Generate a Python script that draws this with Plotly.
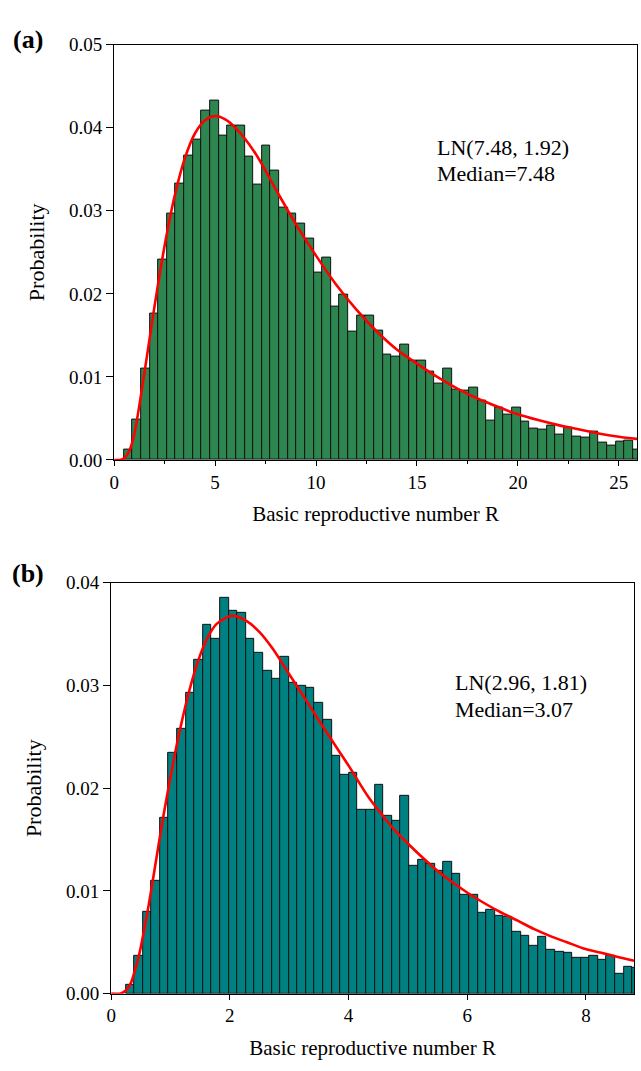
import plotly.graph_objects as go

# ---------------- data ----------------
# Panel (a): histogram of R, 60 bins
a_bin_start = 0.48
a_bin_width = 0.4275
a_prob = [0.0013, 0.0049, 0.0110, 0.0176, 0.0241, 0.0297, 0.0333, 0.0366, 0.0386, 0.0421,
          0.0433, 0.0391, 0.0402, 0.0403, 0.0365, 0.0331, 0.0378, 0.0348, 0.0304, 0.0296,
          0.0284, 0.0266, 0.0225, 0.0244, 0.0185, 0.0199, 0.0154, 0.0174, 0.0174, 0.0156,
          0.0127, 0.0124, 0.0139, 0.0120, 0.0120, 0.0106, 0.0092, 0.0110, 0.0085, 0.0083,
          0.0087, 0.0072, 0.0047, 0.0063, 0.0055, 0.0063, 0.0046, 0.0038, 0.0036, 0.0041,
          0.0031, 0.0039, 0.0028, 0.0027, 0.0034, 0.0021, 0.0017, 0.0022, 0.0023, 0.0013]
# fitted log-normal curve
a_curve_x = [0.0, 0.3, 0.5, 0.75, 1.0, 1.25, 1.5, 1.75, 2.0, 2.5, 3.0, 3.5, 4.0, 4.5, 5.0,
             5.5, 6.0, 7.0, 8.0, 9.0, 10.0, 11.0, 12.0, 13.0, 14.0, 15.0, 16.0, 17.0, 18.0,
             19.0, 20.0, 21.0, 22.0, 23.0, 24.0, 25.0, 26.0]
a_curve_y = [0.0, 0.0, 0.0002, 0.0011, 0.0031, 0.0066, 0.0105, 0.0145, 0.0185, 0.0258,
             0.0318, 0.0363, 0.0393, 0.0409, 0.0414, 0.0410, 0.0400, 0.0369, 0.0326, 0.0284,
             0.0246, 0.0211, 0.0181, 0.0155, 0.0133, 0.0116, 0.0100, 0.0086, 0.0074, 0.0064,
             0.0055, 0.0048, 0.0042, 0.0037, 0.0032, 0.0028, 0.0025]
a_text = ["LN(7.48, 1.92)", "Median=7.48"]

# Panel (b): histogram of R, 60 bins
b_bin_start = 0.245
b_bin_width = 0.1447
b_prob = [0.0009, 0.0037, 0.0080, 0.0110, 0.0171, 0.0234, 0.0258, 0.0293, 0.0325, 0.0359,
          0.0345, 0.0385, 0.0373, 0.0371, 0.0345, 0.0332, 0.0314, 0.0307, 0.0328, 0.0303,
          0.0300, 0.0298, 0.0283, 0.0267, 0.0232, 0.0213, 0.0215, 0.0179, 0.0179, 0.0203,
          0.0173, 0.0168, 0.0193, 0.0124, 0.0130, 0.0126, 0.0120, 0.0128, 0.0117, 0.0096,
          0.0096, 0.0079, 0.0082, 0.0076, 0.0075, 0.0060, 0.0056, 0.0047, 0.0055, 0.0043,
          0.0041, 0.0040, 0.0035, 0.0035, 0.0037, 0.0033, 0.0037, 0.0019, 0.0026, 0.0025]
b_curve_x = [0.0, 0.16, 0.245, 0.329, 0.412, 0.468, 0.607, 0.718, 0.874, 1.069, 1.175, 1.303,
             1.459, 1.61, 1.777, 2.027, 2.278, 2.5, 2.72, 3.0, 3.28, 3.5, 3.84, 4.0, 4.34,
             4.58, 4.78, 5.02, 5.2, 5.51, 5.81, 6.01, 6.29, 6.57, 6.85, 7.12, 7.40, 7.68,
             7.96, 8.24, 8.52, 8.81]
b_curve_y = [0.0, 0.0, 0.0003, 0.0010, 0.0025, 0.0037, 0.0078, 0.0116, 0.0171, 0.0232,
             0.0261, 0.0292, 0.0323, 0.0345, 0.0360, 0.0368, 0.0363, 0.0352, 0.0336, 0.0311,
             0.0286, 0.0266, 0.0236, 0.0222, 0.0191, 0.0173, 0.0159, 0.0145, 0.0135, 0.0119,
             0.0106, 0.0098, 0.0088, 0.0079, 0.0071, 0.0063, 0.0056, 0.0050, 0.0044, 0.0040,
             0.0036, 0.0032]
b_text = ["LN(2.96, 1.81)", "Median=3.07"]

x_title = "Basic reproductive number R"
y_title = "Probability"

# ---------------- figure ----------------
W, H = 641, 1071
FONT = "Liberation Serif, Times New Roman, serif"


def px_x(p):
    return p / W


def px_y(p):
    return 1 - p / H


a_centers = [a_bin_start + a_bin_width * (i + 0.5) for i in range(len(a_prob))]
b_centers = [b_bin_start + b_bin_width * (i + 0.5) for i in range(len(b_prob))]

fig = go.Figure()
fig.add_trace(go.Bar(x=a_centers, y=a_prob, width=a_bin_width,
                     marker=dict(color="#2D8550", line=dict(color="#111111", width=1)),
                     xaxis="x", yaxis="y", showlegend=False))
fig.add_trace(go.Scatter(x=a_curve_x, y=a_curve_y, mode="lines",
                         line=dict(color="#FF0000", width=2.6, shape="spline", smoothing=0.8),
                         xaxis="x", yaxis="y", showlegend=False))
fig.add_trace(go.Bar(x=b_centers, y=b_prob, width=b_bin_width,
                     marker=dict(color="#008080", line=dict(color="#111111", width=1)),
                     xaxis="x2", yaxis="y2", showlegend=False))
fig.add_trace(go.Scatter(x=b_curve_x, y=b_curve_y, mode="lines",
                         line=dict(color="#FF0000", width=2.6, shape="spline", smoothing=0.8),
                         xaxis="x2", yaxis="y2", showlegend=False))

x_common = dict(showline=True, linecolor="black", linewidth=1, mirror=True,
                ticks="outside", tickcolor="black", tickwidth=1, ticklen=5,
                showgrid=False, zeroline=False,
                tickfont=dict(family=FONT, size=19, color="black"))
y_common = dict(showline=True, linecolor="black", linewidth=1, mirror=True,
                ticks="outside", tickcolor="black", tickwidth=1, ticklen=7,
                showgrid=False, zeroline=False,
                tickfont=dict(family=FONT, size=19, color="black"))

fig.update_layout(
    width=W, height=H,
    margin=dict(l=0, r=0, t=0, b=0),
    paper_bgcolor="white", plot_bgcolor="white",
    bargap=0,
    font=dict(family=FONT, color="black"),
    xaxis=dict(domain=[px_x(110), px_x(637)], range=[0, 25.9], anchor="y",
               tickvals=[0, 5, 10, 15, 20, 25],
               minor=dict(ticks="outside", tickvals=[2.5, 7.5, 12.5, 17.5, 22.5],
                          ticklen=3, tickcolor="black"),
               title=dict(text=x_title, font=dict(family=FONT, size=21), standoff=14),
               **x_common),
    yaxis=dict(domain=[px_y(459), px_y(35.3)], range=[0, 0.05], anchor="x",
               tickvals=[0, 0.01, 0.02, 0.03, 0.04, 0.05], tickformat=".2f",
               title=dict(text=y_title, font=dict(family=FONT, size=22), standoff=18),
               **y_common),
    xaxis2=dict(domain=[px_x(107), px_x(634)], range=[0, 8.81], anchor="y2",
                tickvals=[0, 2, 4, 6, 8],
                title=dict(text=x_title, font=dict(family=FONT, size=21), standoff=14),
                **x_common),
    yaxis2=dict(domain=[px_y(1003.3), px_y(584.3)], range=[0, 0.04], anchor="x2",
                tickvals=[0, 0.01, 0.02, 0.03, 0.04], tickformat=".2f",
                title=dict(text=y_title, font=dict(family=FONT, size=22), standoff=18),
                **y_common),
)

ann = []
ann.append(dict(text="<b>(a)</b>", x=px_x(23), y=px_y(30), xref="paper", yref="paper",
                xanchor="center", yanchor="middle", showarrow=False,
                font=dict(family=FONT, size=26, color="black")))
ann.append(dict(text="<b>(b)</b>", x=px_x(23), y=px_y(575), xref="paper", yref="paper",
                xanchor="center", yanchor="middle", showarrow=False,
                font=dict(family=FONT, size=26, color="black")))
for k, t in enumerate(a_text):
    ann.append(dict(text=t, x=px_x(433), y=px_y(140 + 27 * k), xref="paper", yref="paper",
                    xanchor="left", yanchor="middle", showarrow=False,
                    font=dict(family=FONT, size=22, color="black")))
for k, t in enumerate(b_text):
    ann.append(dict(text=t, x=px_x(452), y=px_y(686 + 27 * k), xref="paper", yref="paper",
                    xanchor="left", yanchor="middle", showarrow=False,
                    font=dict(family=FONT, size=22, color="black")))
fig.update_layout(annotations=ann)

fig.write_html("out.html")
